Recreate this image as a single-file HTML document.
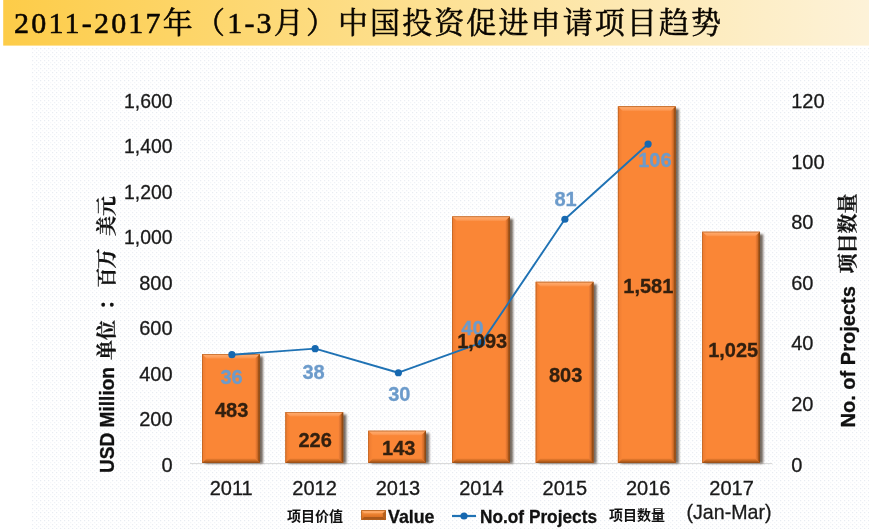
<!DOCTYPE html>
<html><head><meta charset="utf-8"><title>chart</title>
<style>html,body{margin:0;padding:0;background:#fff;}body{width:869px;height:529px;overflow:hidden;}svg{display:block;will-change:transform;}text{font-family:"Liberation Sans",sans-serif;}</style>
</head><body>
<svg width="869" height="529" viewBox="0 0 869 529">
<defs>
<linearGradient id="bn" x1="0" y1="0" x2="1" y2="0"><stop offset="0" stop-color="#FDCC48"/><stop offset="0.5" stop-color="#FDE194"/><stop offset="1" stop-color="#FDF2D8"/></linearGradient>
<pattern id="dots" x="0" y="0" width="8" height="8" patternUnits="userSpaceOnUse"><rect width="8" height="8" fill="#fff"/><rect x="0" y="0" width="1.2" height="1.2" fill="#E8ECF2"/><rect x="4" y="0" width="1.2" height="1.2" fill="#E8ECF2"/><rect x="0" y="4" width="1.2" height="1.2" fill="#EBEEF4"/><rect x="4" y="4" width="1.2" height="1.2" fill="#EBEEF4"/><rect x="6" y="6" width="1.2" height="1.2" fill="#EFF1F6"/><rect x="2" y="6" width="1.2" height="1.2" fill="#F3F5F8"/><rect x="6" y="2" width="1.2" height="1.2" fill="#F3F5F8"/><rect x="2" y="2" width="1.2" height="1.2" fill="#F6F7FA"/></pattern>
<filter id="sh" x="-20%" y="-20%" width="150%" height="140%"><feGaussianBlur stdDeviation="1.1"/></filter>
<linearGradient id="rb" x1="0" y1="0" x2="1" y2="0"><stop offset="0" stop-color="#F4823A"/><stop offset="0.45" stop-color="#D46E28"/><stop offset="0.75" stop-color="#9A5018"/><stop offset="1" stop-color="#6E360A"/></linearGradient>
<linearGradient id="bb" x1="0" y1="0" x2="0" y2="1"><stop offset="0" stop-color="#F08034"/><stop offset="0.5" stop-color="#C86820"/><stop offset="1" stop-color="#8E4814"/></linearGradient>
<linearGradient id="lb" x1="0" y1="0" x2="1" y2="0"><stop offset="0" stop-color="#D06A24"/><stop offset="0.3" stop-color="#F07E32"/><stop offset="1" stop-color="#FA8636"/></linearGradient>
<linearGradient id="tb" x1="0" y1="0" x2="0" y2="1"><stop offset="0" stop-color="#C86A26"/><stop offset="0.2" stop-color="#FFAA6C"/><stop offset="0.7" stop-color="#FD9C58"/><stop offset="1" stop-color="#FB8E44"/></linearGradient>
<linearGradient id="sw" x1="0" y1="0" x2="0" y2="1"><stop offset="0" stop-color="#F99A4C"/><stop offset="0.55" stop-color="#E67A2A"/><stop offset="1" stop-color="#C9661E"/></linearGradient>
</defs>
<rect width="869" height="529" fill="#fff"/>
<rect x="3.2" y="0" width="865.8" height="45.6" fill="url(#bn)"/>
<rect x="31.6" y="47.6" width="837.4" height="481.4" fill="url(#dots)"/>
<text x="14" y="32.8" font-size="30" text-anchor="start" fill="#0a0600" stroke="#0a0600" stroke-width="0.55" textLength="322" lengthAdjust="spacing" style="font-family:'Liberation Serif','Noto Serif CJK SC',serif;">2011-2017年（1-3月）</text>
<text x="338" y="32.8" font-size="30" text-anchor="start" fill="#0a0600" stroke="#0a0600" stroke-width="0.55" textLength="383" lengthAdjust="spacing" style="font-family:'Liberation Serif','Noto Serif CJK SC',serif;">中国投资促进申请项目趋势</text>
<rect x="190" y="463.1" width="582.3" height="1" fill="#D6D6D6"/>
<rect x="205.2" y="356.54" width="57.8" height="106.96" fill="#4a3a2e" opacity="0.75" filter="url(#sh)"/>
<rect x="202" y="354.04" width="57.8" height="108.96" fill="#FA8636"/>
<polygon points="202,354.04 259.8,354.04 255.2,358.64 206.6,358.64" fill="url(#tb)"/>
<polygon points="202,354.04 206.6,358.64 206.6,458.4 202,463" fill="url(#lb)"/>
<polygon points="255.2,358.64 259.8,354.04 259.8,463 255.2,458.4" fill="url(#rb)"/>
<polygon points="206.6,458.4 255.2,458.4 259.8,463 202,463" fill="url(#bb)"/>
<rect x="202.4" y="354.44" width="57" height="108.16" fill="none" stroke="#A8581C" stroke-width="0.8" opacity="0.45"/>
<rect x="288.6" y="414.51" width="57.8" height="48.99" fill="#4a3a2e" opacity="0.75" filter="url(#sh)"/>
<rect x="285.4" y="412.01" width="57.8" height="50.99" fill="#FA8636"/>
<polygon points="285.4,412.01 343.2,412.01 338.6,416.61 290,416.61" fill="url(#tb)"/>
<polygon points="285.4,412.01 290,416.61 290,458.4 285.4,463" fill="url(#lb)"/>
<polygon points="338.6,416.61 343.2,412.01 343.2,463 338.6,458.4" fill="url(#rb)"/>
<polygon points="290,458.4 338.6,458.4 343.2,463 285.4,463" fill="url(#bb)"/>
<rect x="285.8" y="412.41" width="57" height="50.19" fill="none" stroke="#A8581C" stroke-width="0.8" opacity="0.45"/>
<rect x="371.4" y="433.24" width="57.8" height="30.26" fill="#4a3a2e" opacity="0.75" filter="url(#sh)"/>
<rect x="368.2" y="430.74" width="57.8" height="32.26" fill="#FA8636"/>
<polygon points="368.2,430.74 426,430.74 421.4,435.34 372.8,435.34" fill="url(#tb)"/>
<polygon points="368.2,430.74 372.8,435.34 372.8,458.4 368.2,463" fill="url(#lb)"/>
<polygon points="421.4,435.34 426,430.74 426,463 421.4,458.4" fill="url(#rb)"/>
<polygon points="372.8,458.4 421.4,458.4 426,463 368.2,463" fill="url(#bb)"/>
<rect x="368.6" y="431.14" width="57" height="31.46" fill="none" stroke="#A8581C" stroke-width="0.8" opacity="0.45"/>
<rect x="455.3" y="218.92" width="57.8" height="244.58" fill="#4a3a2e" opacity="0.75" filter="url(#sh)"/>
<rect x="452.1" y="216.42" width="57.8" height="246.58" fill="#FA8636"/>
<polygon points="452.1,216.42 509.9,216.42 505.3,221.02 456.7,221.02" fill="url(#tb)"/>
<polygon points="452.1,216.42 456.7,221.02 456.7,458.4 452.1,463" fill="url(#lb)"/>
<polygon points="505.3,221.02 509.9,216.42 509.9,463 505.3,458.4" fill="url(#rb)"/>
<polygon points="456.7,458.4 505.3,458.4 509.9,463 452.1,463" fill="url(#bb)"/>
<rect x="452.5" y="216.82" width="57" height="245.78" fill="none" stroke="#A8581C" stroke-width="0.8" opacity="0.45"/>
<rect x="538.9" y="284.34" width="57.8" height="179.16" fill="#4a3a2e" opacity="0.75" filter="url(#sh)"/>
<rect x="535.7" y="281.84" width="57.8" height="181.16" fill="#FA8636"/>
<polygon points="535.7,281.84 593.5,281.84 588.9,286.44 540.3,286.44" fill="url(#tb)"/>
<polygon points="535.7,281.84 540.3,286.44 540.3,458.4 535.7,463" fill="url(#lb)"/>
<polygon points="588.9,286.44 593.5,281.84 593.5,463 588.9,458.4" fill="url(#rb)"/>
<polygon points="540.3,458.4 588.9,458.4 593.5,463 535.7,463" fill="url(#bb)"/>
<rect x="536.1" y="282.24" width="57" height="180.36" fill="none" stroke="#A8581C" stroke-width="0.8" opacity="0.45"/>
<rect x="621.1" y="108.83" width="57.8" height="354.67" fill="#4a3a2e" opacity="0.75" filter="url(#sh)"/>
<rect x="617.9" y="106.33" width="57.8" height="356.67" fill="#FA8636"/>
<polygon points="617.9,106.33 675.7,106.33 671.1,110.93 622.5,110.93" fill="url(#tb)"/>
<polygon points="617.9,106.33 622.5,110.93 622.5,458.4 617.9,463" fill="url(#lb)"/>
<polygon points="671.1,110.93 675.7,106.33 675.7,463 671.1,458.4" fill="url(#rb)"/>
<polygon points="622.5,458.4 671.1,458.4 675.7,463 617.9,463" fill="url(#bb)"/>
<rect x="618.3" y="106.73" width="57" height="355.87" fill="none" stroke="#A8581C" stroke-width="0.8" opacity="0.45"/>
<rect x="705.4" y="234.26" width="57.8" height="229.24" fill="#4a3a2e" opacity="0.75" filter="url(#sh)"/>
<rect x="702.2" y="231.76" width="57.8" height="231.24" fill="#FA8636"/>
<polygon points="702.2,231.76 760,231.76 755.4,236.36 706.8,236.36" fill="url(#tb)"/>
<polygon points="702.2,231.76 706.8,236.36 706.8,458.4 702.2,463" fill="url(#lb)"/>
<polygon points="755.4,236.36 760,231.76 760,463 755.4,458.4" fill="url(#rb)"/>
<polygon points="706.8,458.4 755.4,458.4 760,463 702.2,463" fill="url(#bb)"/>
<rect x="702.6" y="232.16" width="57" height="230.44" fill="none" stroke="#A8581C" stroke-width="0.8" opacity="0.45"/>
<polyline fill="none" stroke="#1F72B4" stroke-width="1.9" stroke-linejoin="round" points="231.9,354.68 315.14,348.66 398.38,372.73 481.62,342.64 564.86,219.27 648.1,144.05"/>
<circle cx="231.9" cy="354.68" r="3.6" fill="#1668B0"/>
<circle cx="315.14" cy="348.66" r="3.6" fill="#1668B0"/>
<circle cx="398.38" cy="372.73" r="3.6" fill="#1668B0"/>
<circle cx="481.62" cy="342.64" r="3.6" fill="#1668B0"/>
<circle cx="564.86" cy="219.27" r="3.6" fill="#1668B0"/>
<circle cx="648.1" cy="144.05" r="3.6" fill="#1668B0"/>
<text x="231.6" y="384.3" font-size="20" text-anchor="middle" font-weight="bold" fill="#6C9BCB" stroke="#6C9BCB" stroke-width="0.3">36</text>
<text x="313.6" y="379.3" font-size="20" text-anchor="middle" font-weight="bold" fill="#6C9BCB" stroke="#6C9BCB" stroke-width="0.3">38</text>
<text x="399.3" y="401.4" font-size="20" text-anchor="middle" font-weight="bold" fill="#6C9BCB" stroke="#6C9BCB" stroke-width="0.3">30</text>
<text x="472.4" y="334.7" font-size="20" text-anchor="middle" font-weight="bold" fill="#6C9BCB" stroke="#6C9BCB" stroke-width="0.3">40</text>
<text x="565.5" y="206.2" font-size="20" text-anchor="middle" font-weight="bold" fill="#6C9BCB" stroke="#6C9BCB" stroke-width="0.3">81</text>
<text x="654.9" y="166.5" font-size="20" text-anchor="middle" font-weight="bold" fill="#6C9BCB" stroke="#6C9BCB" stroke-width="0.3">106</text>
<text x="231.6" y="417.4" font-size="20" text-anchor="middle" font-weight="bold" fill="#33200F" stroke="#33200F" stroke-width="0.3">483</text>
<text x="315.2" y="446.8" font-size="20" text-anchor="middle" font-weight="bold" fill="#33200F" stroke="#33200F" stroke-width="0.3">226</text>
<text x="398.8" y="454.8" font-size="20" text-anchor="middle" font-weight="bold" fill="#33200F" stroke="#33200F" stroke-width="0.3">143</text>
<text x="482.2" y="347.6" font-size="20" text-anchor="middle" font-weight="bold" fill="#33200F" stroke="#33200F" stroke-width="0.3">1,093</text>
<text x="565.7" y="381.5" font-size="20" text-anchor="middle" font-weight="bold" fill="#33200F" stroke="#33200F" stroke-width="0.3">803</text>
<text x="648.3" y="293.4" font-size="20" text-anchor="middle" font-weight="bold" fill="#33200F" stroke="#33200F" stroke-width="0.3">1,581</text>
<text x="733.2" y="356.5" font-size="20" text-anchor="middle" font-weight="bold" fill="#33200F" stroke="#33200F" stroke-width="0.3">1,025</text>
<text x="172.6" y="471.6" font-size="20" text-anchor="end" fill="#1a1a1a" stroke="#1a1a1a" stroke-width="0.3">0</text>
<text x="172.6" y="426.1" font-size="20" text-anchor="end" fill="#1a1a1a" stroke="#1a1a1a" stroke-width="0.3">200</text>
<text x="172.6" y="380.6" font-size="20" text-anchor="end" fill="#1a1a1a" stroke="#1a1a1a" stroke-width="0.3">400</text>
<text x="172.6" y="335.1" font-size="20" text-anchor="end" fill="#1a1a1a" stroke="#1a1a1a" stroke-width="0.3">600</text>
<text x="172.6" y="289.6" font-size="20" text-anchor="end" fill="#1a1a1a" stroke="#1a1a1a" stroke-width="0.3">800</text>
<text transform="translate(172.6,244.1) scale(0.97,1)" font-size="20" text-anchor="end" fill="#1a1a1a" stroke="#1a1a1a" stroke-width="0.3">1,000</text>
<text transform="translate(172.6,198.6) scale(0.97,1)" font-size="20" text-anchor="end" fill="#1a1a1a" stroke="#1a1a1a" stroke-width="0.3">1,200</text>
<text transform="translate(172.6,153.1) scale(0.97,1)" font-size="20" text-anchor="end" fill="#1a1a1a" stroke="#1a1a1a" stroke-width="0.3">1,400</text>
<text transform="translate(172.6,107.6) scale(0.97,1)" font-size="20" text-anchor="end" fill="#1a1a1a" stroke="#1a1a1a" stroke-width="0.3">1,600</text>
<text x="791.2" y="471.5" font-size="20" text-anchor="start" fill="#1a1a1a" stroke="#1a1a1a" stroke-width="0.3">0</text>
<text x="791.2" y="410.9" font-size="20" text-anchor="start" fill="#1a1a1a" stroke="#1a1a1a" stroke-width="0.3">20</text>
<text x="791.2" y="350.3" font-size="20" text-anchor="start" fill="#1a1a1a" stroke="#1a1a1a" stroke-width="0.3">40</text>
<text x="791.2" y="289.7" font-size="20" text-anchor="start" fill="#1a1a1a" stroke="#1a1a1a" stroke-width="0.3">60</text>
<text x="791.2" y="229.1" font-size="20" text-anchor="start" fill="#1a1a1a" stroke="#1a1a1a" stroke-width="0.3">80</text>
<text x="791.2" y="168.5" font-size="20" text-anchor="start" fill="#1a1a1a" stroke="#1a1a1a" stroke-width="0.3">100</text>
<text x="791.2" y="107.9" font-size="20" text-anchor="start" fill="#1a1a1a" stroke="#1a1a1a" stroke-width="0.3">120</text>
<text x="231.2" y="494.5" font-size="20" text-anchor="middle" fill="#1a1a1a" stroke="#1a1a1a" stroke-width="0.3">2011</text>
<text x="314.6" y="494.5" font-size="20" text-anchor="middle" fill="#1a1a1a" stroke="#1a1a1a" stroke-width="0.3">2012</text>
<text x="398" y="494.5" font-size="20" text-anchor="middle" fill="#1a1a1a" stroke="#1a1a1a" stroke-width="0.3">2013</text>
<text x="481.4" y="494.5" font-size="20" text-anchor="middle" fill="#1a1a1a" stroke="#1a1a1a" stroke-width="0.3">2014</text>
<text x="564.8" y="494.5" font-size="20" text-anchor="middle" fill="#1a1a1a" stroke="#1a1a1a" stroke-width="0.3">2015</text>
<text x="648.2" y="494.5" font-size="20" text-anchor="middle" fill="#1a1a1a" stroke="#1a1a1a" stroke-width="0.3">2016</text>
<text x="731.6" y="494.5" font-size="20" text-anchor="middle" fill="#1a1a1a" stroke="#1a1a1a" stroke-width="0.3">2017</text>
<text transform="translate(729,518.7) scale(0.98,1)" font-size="20" text-anchor="middle" fill="#1a1a1a" stroke="#1a1a1a" stroke-width="0.3">(Jan-Mar)</text>
<g transform="translate(114.2,473.0) rotate(-90)">
<text x="0" y="0" font-size="20" text-anchor="start" font-weight="bold" fill="#111" stroke="#111" stroke-width="0.3" textLength="106" lengthAdjust="spacingAndGlyphs">USD Million</text>
<text x="113" y="0" font-size="20" text-anchor="start" font-weight="bold" fill="#111" stroke="#111" stroke-width="0.3" textLength="40" lengthAdjust="spacing" style="font-family:'Liberation Serif','Noto Serif CJK SC',serif;">单位</text>
<text x="163" y="0" font-size="20" text-anchor="start" font-weight="bold" fill="#111" stroke="#111" stroke-width="0.3" style="font-family:'Liberation Serif','Noto Serif CJK SC',serif;">：</text>
<text x="185.5" y="0" font-size="20" text-anchor="start" font-weight="bold" fill="#111" stroke="#111" stroke-width="0.3" textLength="39" lengthAdjust="spacing" style="font-family:'Liberation Serif','Noto Serif CJK SC',serif;">百万</text>
<text x="237" y="0" font-size="20" text-anchor="start" font-weight="bold" fill="#111" stroke="#111" stroke-width="0.3" textLength="40" lengthAdjust="spacing" style="font-family:'Liberation Serif','Noto Serif CJK SC',serif;">美元</text>
</g>
<g transform="translate(855,427.6) rotate(-90)">
<text x="0" y="0" font-size="20" text-anchor="start" font-weight="bold" fill="#111" stroke="#111" stroke-width="0.3" textLength="141.5" lengthAdjust="spacingAndGlyphs">No. of Projects</text>
<text x="154" y="0" font-size="20" text-anchor="start" font-weight="bold" fill="#111" stroke="#111" stroke-width="0.3" textLength="80" lengthAdjust="spacing" style="font-family:'Liberation Serif','Noto Serif CJK SC',serif;">项目数量</text>
</g>
<text x="287" y="520.8" font-size="14" text-anchor="start" font-weight="bold" fill="#111" textLength="56" lengthAdjust="spacing" style="font-family:'Liberation Sans','Noto Sans CJK SC',sans-serif;">项目价值</text>
<rect x="361.2" y="510.2" width="24.7" height="9.7" fill="url(#sw)"/>
<polygon points="361.2,510.2 385.9,510.2 382.9,513.2 364.2,513.2" fill="#FDA662"/>
<polygon points="364.2,516.9 382.9,516.9 385.9,519.9 361.2,519.9" fill="#A9581B"/>
<polygon points="382.9,513.2 385.9,510.2 385.9,519.9 382.9,516.9" fill="#B5611F"/>
<rect x="361.6" y="510.6" width="23.9" height="8.9" fill="none" stroke="#B5611F" stroke-width="0.8"/>
<text x="388" y="522.5" font-size="18.5" text-anchor="start" font-weight="bold" fill="#111" stroke="#111" stroke-width="0.3" textLength="46.5" lengthAdjust="spacingAndGlyphs">Value</text>
<rect x="452" y="514.9" width="24" height="2.2" fill="#1F72B4"/>
<circle cx="464" cy="516" r="3.6" fill="#1668B0"/>
<text x="480" y="522.5" font-size="18.5" text-anchor="start" font-weight="bold" fill="#111" stroke="#111" stroke-width="0.3" textLength="117" lengthAdjust="spacingAndGlyphs">No.of Projects</text>
<text x="609" y="520.3" font-size="14" text-anchor="start" font-weight="bold" fill="#111" textLength="56" lengthAdjust="spacing" style="font-family:'Liberation Sans','Noto Sans CJK SC',sans-serif;">项目数量</text>
</svg>
</body></html>
